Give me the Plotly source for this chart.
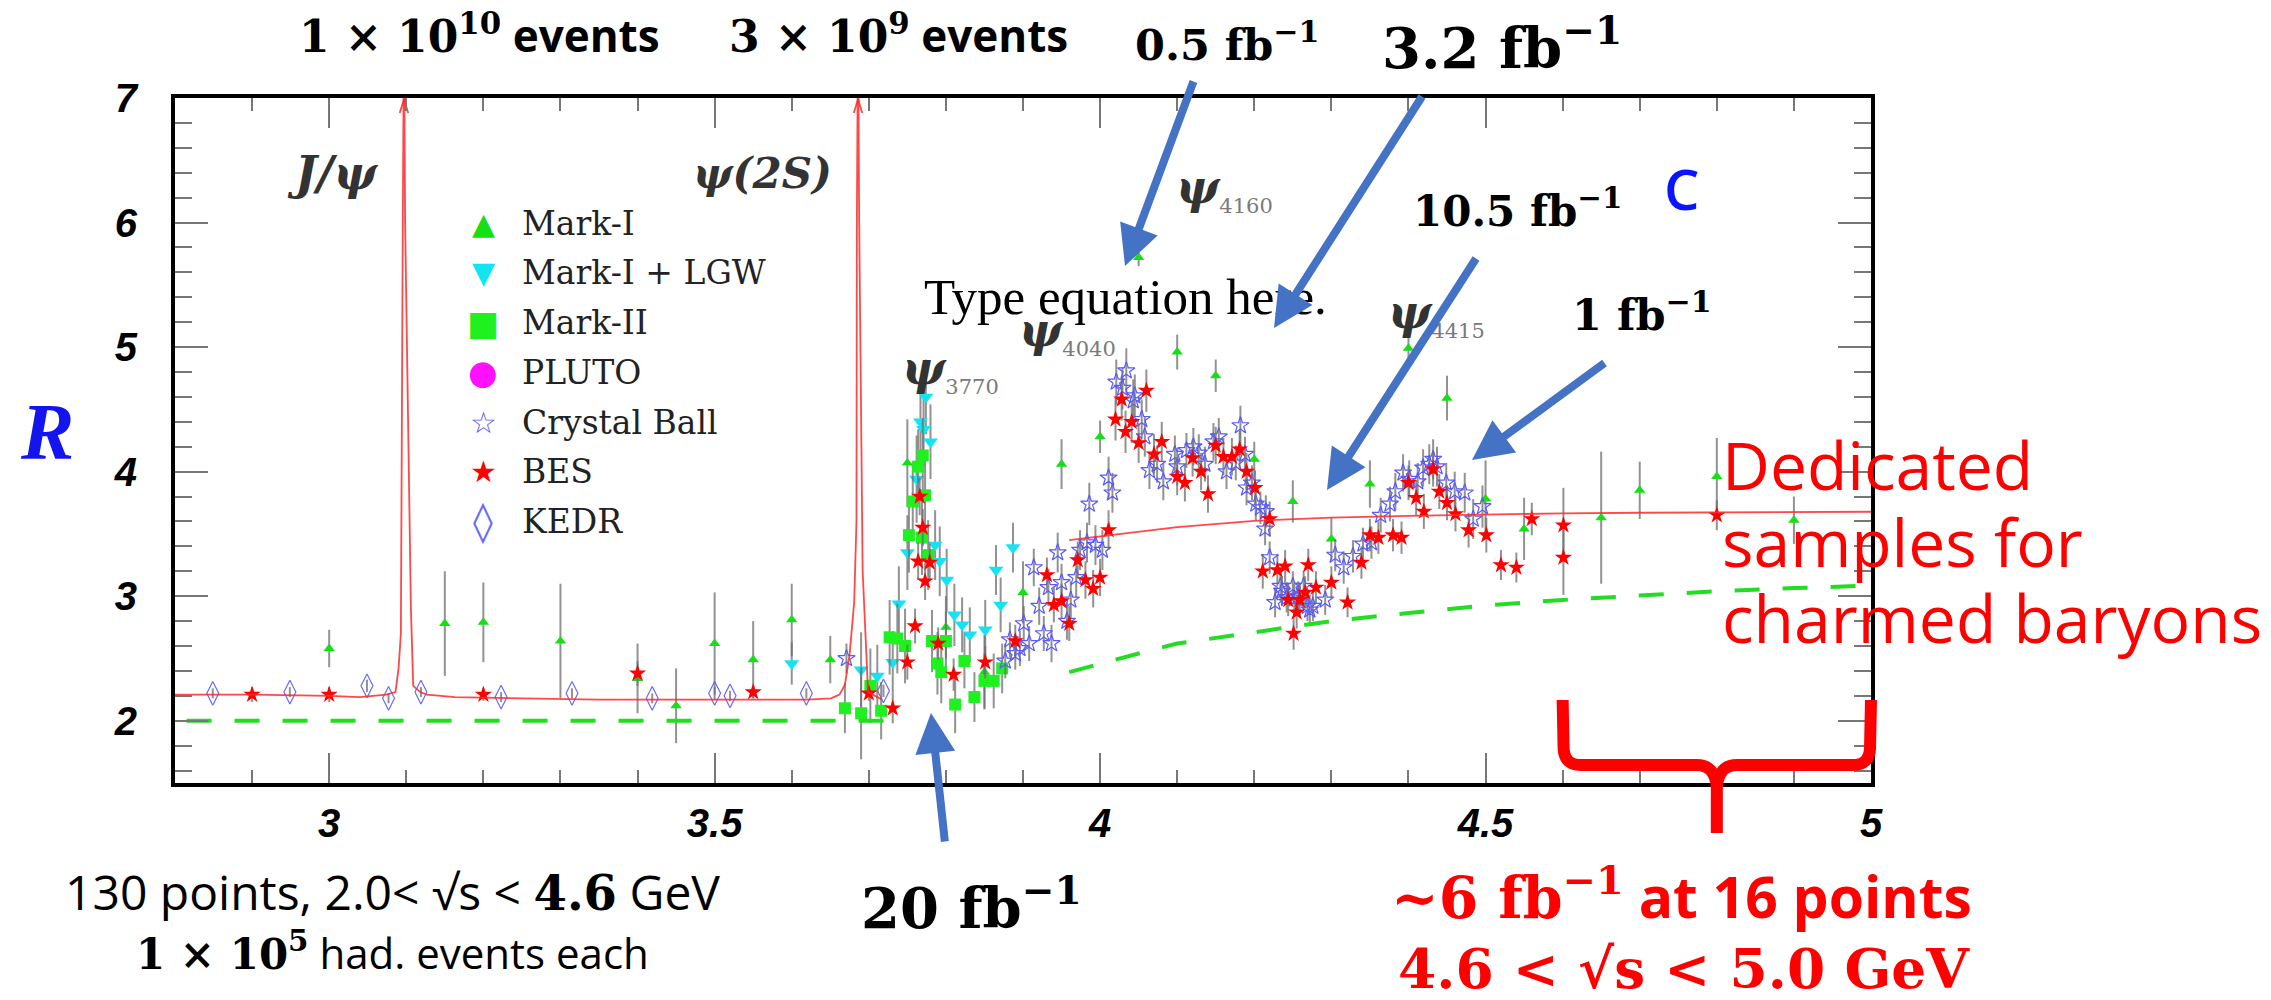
import plotly.graph_objects as go

# ---------------- data ----------------
series_names = ["Mark-I", "Mark-I + LGW", "Mark-II", "PLUTO", "Crystal Ball", "BES", "KEDR"]

markI_x = [3.00, 3.15, 3.20, 3.30, 3.40, 3.45, 3.50, 3.55, 3.60, 3.65, 3.75, 3.80, 3.85, 3.90, 3.95, 4.00,
           4.05, 4.10, 4.15, 4.20, 4.25, 4.30, 4.35, 4.40, 4.45, 4.50, 4.55, 4.65, 4.70, 4.80, 4.90]
markI_y = [2.58, 2.78, 2.79, 2.64, 2.34, 2.12, 2.62, 2.49, 2.81, 2.49, 4.07, 2.75, 2.39, 3.03, 4.06, 4.28,
           5.72, 4.96, 4.77, 4.10, 3.76, 3.46, 3.90, 4.99, 4.59, 3.78, 3.54, 3.63, 3.85, 3.96, 3.61]
markI_e = [0.15, 0.42, 0.32, 0.46, 0.28, 0.30, 0.41, 0.31, 0.29, 0.19, 0.35, 0.25, 0.30, 0.25, 0.20, 0.13,
           0.07, 0.14, 0.13, 0.14, 0.17, 0.17, 0.19, 0.10, 0.18, 0.31, 0.25, 0.53, 0.23, 0.31, 0.19]

lgw_x = [3.600, 3.690, 3.711, 3.731, 3.739, 3.750, 3.762, 3.767, 3.771, 3.774, 3.780, 3.786, 3.792, 3.801,
         3.811, 3.821, 3.831, 3.851, 3.865, 3.871, 3.887]
lgw_y = [2.46, 2.41, 2.36, 2.47, 2.94, 3.35, 3.94, 4.40, 4.34, 4.60, 4.24, 3.41, 3.28, 3.13,
         2.85, 2.77, 2.69, 2.73, 3.21, 2.93, 3.39]
lgw_e = [0.17, 0.30, 0.25, 0.25, 0.30, 0.30, 0.35, 0.35, 0.30, 0.30, 0.30, 0.28, 0.28, 0.25,
         0.25, 0.22, 0.22, 0.24, 0.20, 0.22, 0.20]

markII_x = [3.669, 3.690, 3.702, 3.716, 3.727, 3.737, 3.747, 3.752, 3.757, 3.764, 3.769, 3.770, 3.773,
            3.777, 3.782, 3.789, 3.794, 3.800, 3.812, 3.824, 3.837, 3.850, 3.862, 3.873]
markII_y = [2.10, 2.06, 2.28, 2.08, 2.67, 2.66, 2.60, 3.49, 3.76, 4.04, 3.47, 4.13, 3.81,
            3.33, 2.64, 2.46, 2.39, 2.64, 2.13, 2.48, 2.19, 2.32, 2.32, 2.42]
markII_e = [0.20, 0.37, 0.30, 0.23, 0.30, 0.28, 0.30, 0.30, 0.32, 0.30, 0.30, 0.30, 0.30,
            0.28, 0.25, 0.25, 0.25, 0.24, 0.23, 0.22, 0.20, 0.22, 0.22, 0.20]

pluto_x = []
pluto_y = []

cb_x = [3.671, 3.877, 3.883, 3.890, 3.896, 3.901, 3.908, 3.914, 3.921, 3.927, 3.933, 3.937, 3.945, 3.950,
        3.957, 3.962, 3.969, 3.974, 3.983, 3.986, 3.994, 4.003, 4.011, 4.016, 4.021, 4.029, 4.034, 4.043,
        4.045, 4.054, 4.058, 4.064, 4.074, 4.082, 4.097, 4.100, 4.112, 4.121, 4.128, 4.136, 4.147, 4.154,
        4.164, 4.176, 4.182, 4.188, 4.190, 4.197, 4.202, 4.208, 4.214, 4.215, 4.220, 4.227, 4.234, 4.236,
        4.242, 4.250, 4.252, 4.257, 4.264, 4.269, 4.272, 4.276, 4.292, 4.305, 4.316, 4.328, 4.341, 4.352,
        4.364, 4.376, 4.383, 4.393, 4.401, 4.412, 4.419, 4.427, 4.432, 4.437, 4.449, 4.460, 4.473, 4.484,
        4.496]
cb_y = [2.50, 2.48, 2.65, 2.54, 2.58, 2.78, 2.62, 3.23, 2.92, 2.70, 3.07, 2.62, 3.35, 3.11,
        2.80, 2.97, 3.15, 3.37, 3.43, 3.74, 3.41, 3.37, 3.95, 3.83, 4.72, 4.67, 4.81, 4.57,
        4.61, 4.42, 4.28, 4.01, 4.06, 3.92, 4.14, 4.04, 4.17, 4.20, 4.15, 4.06, 4.24, 4.28,
        4.00, 4.07, 4.37, 4.14, 3.87, 3.91, 3.74, 3.71, 3.54, 3.68, 3.31, 2.95, 3.08, 3.04,
        2.99, 3.08, 2.98, 3.00, 3.08, 2.92, 2.89, 2.92, 2.97, 3.33, 3.23, 3.32, 3.42, 3.43,
        3.65, 3.74, 3.84, 3.99, 3.94, 3.92, 4.03, 4.06, 4.10, 4.04, 3.91, 3.84, 3.83, 3.62,
        3.72]
cb_e = [0.12, 0.14, 0.14, 0.13, 0.14, 0.14, 0.14, 0.15, 0.15, 0.14, 0.15, 0.15, 0.16, 0.15,
        0.15, 0.15, 0.16, 0.16, 0.16, 0.17, 0.16, 0.16, 0.17, 0.16, 0.18, 0.17, 0.18, 0.17,
        0.17, 0.16, 0.16, 0.15, 0.15, 0.15, 0.15, 0.15, 0.14, 0.15, 0.15, 0.14, 0.15, 0.15,
        0.14, 0.14, 0.16, 0.14, 0.14, 0.14, 0.13, 0.13, 0.13, 0.13, 0.13, 0.12, 0.12, 0.12,
        0.12, 0.12, 0.12, 0.12, 0.12, 0.12, 0.12, 0.12, 0.12, 0.13, 0.13, 0.13, 0.13, 0.13,
        0.14, 0.14, 0.15, 0.15, 0.15, 0.15, 0.15, 0.16, 0.16, 0.16, 0.16, 0.16, 0.16, 0.16,
        0.17]

bes_x = [2.90, 3.00, 3.20, 3.40, 3.55, 3.70, 3.731, 3.750, 3.760, 3.764, 3.766, 3.770, 3.773, 3.779,
         3.790, 3.810, 3.851, 3.890, 3.931, 3.940, 3.950, 3.960, 3.971, 3.981, 3.991, 4.000, 4.011,
         4.020, 4.028, 4.033, 4.041, 4.050, 4.060, 4.070, 4.080, 4.100, 4.110, 4.120, 4.131, 4.140,
         4.150, 4.160, 4.171, 4.181, 4.190, 4.201, 4.211, 4.220, 4.230, 4.240, 4.244, 4.251, 4.255,
         4.259, 4.266, 4.270, 4.280, 4.300, 4.321, 4.339, 4.350, 4.361, 4.380, 4.391, 4.400, 4.410,
         4.420, 4.432, 4.440, 4.450, 4.461, 4.478, 4.501, 4.520, 4.540, 4.560, 4.601, 4.601, 4.800]
bes_y = [2.21, 2.21, 2.21, 2.38, 2.23, 2.22, 2.10, 2.47, 2.76, 3.28, 3.80, 3.55, 3.12, 3.27,
         2.62, 2.37, 2.47, 2.64, 3.17, 2.93, 2.96, 2.78, 3.29, 3.13, 3.06, 3.15, 3.53,
         4.42, 4.58, 4.32, 4.40, 4.23, 4.65, 4.14, 4.24, 3.96, 3.91, 4.11, 4.00, 3.82,
         4.21, 4.12, 4.12, 4.18, 4.00, 3.87, 3.20, 3.62, 3.21, 3.24, 2.97, 2.70, 2.87,
         2.97, 3.03, 3.25, 3.07, 3.11, 2.95, 3.27, 3.49, 3.47, 3.49, 3.47, 3.91, 3.79,
         3.68, 4.02, 3.84, 3.75, 3.66, 3.53, 3.49, 3.25, 3.23, 3.62, 3.57, 3.31, 3.65]
bes_e = [0.06, 0.06, 0.05, 0.10, 0.05, 0.06, 0.12, 0.14, 0.14, 0.15, 0.15, 0.15, 0.15, 0.15,
         0.13, 0.13, 0.13, 0.13, 0.14, 0.14, 0.14, 0.14, 0.15, 0.15, 0.15, 0.15, 0.16,
         0.17, 0.17, 0.17, 0.17, 0.16, 0.17, 0.16, 0.16, 0.15, 0.15, 0.15, 0.15, 0.15,
         0.15, 0.15, 0.15, 0.15, 0.15, 0.14, 0.14, 0.14, 0.13, 0.13, 0.13, 0.13, 0.13,
         0.13, 0.13, 0.13, 0.13, 0.13, 0.12, 0.13, 0.13, 0.13, 0.13, 0.13, 0.14, 0.14,
         0.14, 0.14, 0.14, 0.14, 0.14, 0.14, 0.14, 0.12, 0.12, 0.13, 0.30, 0.30, 0.12]

kedr_x = [2.849, 2.949, 3.049, 3.077, 3.119, 3.223, 3.315, 3.419, 3.500, 3.520, 3.619, 3.719]
kedr_y = [2.22, 2.23, 2.28, 2.18, 2.23, 2.19, 2.22, 2.18, 2.22, 2.20, 2.22, 2.24]
kedr_e = [0.04, 0.04, 0.05, 0.04, 0.04, 0.04, 0.04, 0.04, 0.05, 0.04, 0.04, 0.05]

# theory curves
theory_low_x = [2.80, 2.90, 3.00, 3.04, 3.074, 3.086, 3.090, 3.093, 3.0955, 3.097, 3.0985, 3.106, 3.109,
                3.118, 3.127, 3.163, 3.25, 3.35, 3.45, 3.55, 3.62, 3.651, 3.662, 3.669, 3.675, 3.681,
                3.684, 3.6845, 3.686, 3.6875, 3.692, 3.699, 3.708, 3.717]
theory_low_y = [2.21, 2.21, 2.20, 2.19, 2.21, 2.23, 2.42, 2.70, 6.00, 7.60, 6.00, 2.90, 2.28,
                2.23, 2.21, 2.19, 2.18, 2.17, 2.17, 2.17, 2.17, 2.18, 2.21, 2.29, 2.53, 2.95,
                3.60, 6.00, 7.60, 6.00, 3.20, 2.23, 2.20, 2.17]
resonance_peaks = [3.097, 3.686]

theory_high_x = [3.96, 4.00, 4.05, 4.10, 4.20, 4.30, 4.40, 4.50, 4.60, 4.70, 4.80, 4.90, 5.00]
theory_high_y = [3.45, 3.48, 3.52, 3.555, 3.605, 3.63, 3.645, 3.657, 3.665, 3.670, 3.674, 3.676, 3.678]

parton_low_x = [2.815, 3.722]
parton_low_y = [2.00, 2.00]
parton_high_x = [3.96, 4.00, 4.05, 4.10, 4.20, 4.30, 4.40, 4.50, 4.60, 4.70, 4.80, 4.90, 5.00]
parton_high_y = [2.39, 2.46, 2.54, 2.62, 2.71, 2.80, 2.865, 2.925, 2.97, 3.005, 3.04, 3.065, 3.085]

x_tickvals = [3, 3.5, 4, 4.5, 5]
x_ticktext = ["3", "3.5", "4", "4.5", "5"]
y_tickvals = [2, 3, 4, 5, 6, 7]
y_ticktext = ["2", "3", "4", "5", "6", "7"]

# ---------------- layout geometry ----------------
W, H = 2271, 1000
ML, MR, MT, MB = 175, 400, 98, 217
XR = [2.8, 5.0]
YR = [1.5, 7.0]


def px(X):
    return (X - ML) / (W - ML - MR)


def py(Y):
    return (H - MB - Y) / (H - MT - MB)


def dx(x):  # data x -> pixel
    return ML + (x - XR[0]) / (XR[1] - XR[0]) * (W - ML - MR)


colors = {
    "Mark-I": "#14e014",
    "Mark-I + LGW": "#12e4f2",
    "Mark-II": "#1ff01f",
    "PLUTO": "#ff10ff",
    "Crystal Ball": "#5a5aff",
    "BES": "#ff0000",
    "KEDR": "#6a6aff",
}
ERR = dict(type="data", thickness=2, width=0, color="rgba(110,110,110,0.75)")

fig = go.Figure()


def add_series(name, xs, ys, es, symbol, size, lw=0):
    fig.add_trace(go.Scatter(
        x=xs, y=ys, mode="markers", name=name, showlegend=False,
        error_y=dict(ERR, array=es),
        marker=dict(symbol=symbol, size=size, color=colors[name],
                    line=dict(width=lw, color=colors[name])),
    ))


add_series("KEDR", kedr_x, kedr_y, kedr_e, "diamond-tall-open", 17, 1.2)
add_series("Mark-I", markI_x, markI_y, markI_e, "triangle-up", 10)
add_series("Mark-I + LGW", lgw_x, lgw_y, lgw_e, "triangle-down", 13)
add_series("Mark-II", markII_x, markII_y, markII_e, "square", 12)
fig.add_trace(go.Scatter(x=pluto_x, y=pluto_y, mode="markers", name="PLUTO", showlegend=False,
                         marker=dict(symbol="circle", size=12, color=colors["PLUTO"])))
add_series("Crystal Ball", cb_x, cb_y, cb_e, "star-open", 13, 1.2)
add_series("BES", bes_x, bes_y, bes_e, "star", 13)

# theory (red) and parton model (green dashed)
RED_LINE = dict(color="rgba(255,40,40,0.85)", width=1.8)
fig.add_trace(go.Scatter(x=theory_low_x, y=theory_low_y, mode="lines", showlegend=False, line=RED_LINE))
fig.add_trace(go.Scatter(x=theory_high_x, y=theory_high_y, mode="lines", showlegend=False, line=RED_LINE))
ah_x, ah_y = [], []
for p in resonance_peaks:
    ah_x += [p - 0.0055, p, p + 0.0055, None]
    ah_y += [6.88, 6.99, 6.88, None]
fig.add_trace(go.Scatter(x=ah_x, y=ah_y, mode="lines", showlegend=False, line=RED_LINE))
fig.add_trace(go.Scatter(x=parton_low_x, y=parton_low_y, mode="lines", showlegend=False,
                         line=dict(color="#22dd22", width=4, dash="25px,23px")))
fig.add_trace(go.Scatter(x=parton_high_x, y=parton_high_y, mode="lines", showlegend=False,
                         line=dict(color="#22dd22", width=4, dash="25px,23px")))

# ---------------- annotations ----------------
ann = []


def txt(text, X, Y, size, color="black", family="Open Sans", xanchor="center",
        yanchor="middle", weight=None, style=None):
    f = dict(size=size, color=color, family=family)
    if weight:
        f["weight"] = weight
    if style:
        f["style"] = style
    ann.append(dict(text=text, x=px(X), y=py(Y), xref="paper", yref="paper", showarrow=False,
                    xanchor=xanchor, yanchor=yanchor, font=f))


SERIF_B = "DejaVu Serif"
MATH = "font-family:'DejaVu Serif';font-weight:bold"

txt(f"<span style=\"{MATH}\">1 × 10<sup>10</sup></span> events", 479, 35, 44, weight=700)
txt(f"<span style=\"{MATH}\">3 × 10<sup>9</sup></span> events", 898, 35, 44, weight=700)
txt("0.5 fb<sup>−1</sup>", 1227, 42, 43, family=SERIF_B, weight=700)
txt("3.2 fb<sup>−1</sup>", 1502, 44, 56, family=SERIF_B, weight=700)
txt("10.5 fb<sup>−1</sup>", 1517, 208, 42, family=SERIF_B, weight=700)
txt("1 fb<sup>−1</sup>", 1642, 312, 43, family=SERIF_B, weight=700)
txt("C", 1682, 188, 56, color="#0a14ff", family="Open Sans", weight=600)
txt("20 fb<sup>−1</sup>", 971, 904, 56, family=SERIF_B, weight=700)
txt("Type equation here.", 1125, 297, 51, family="Liberation Serif")

# resonance labels
PSI = "#333333"
SUB = ("<sub><span style=\"color:#7a7a7a;font-weight:normal;font-style:normal;font-size:21px\">"
       "{}</span></sub>")
for lab, X, Y in [("4160", 1174, 189), ("4040", 1017, 332), ("3770", 900, 370), ("4415", 1386, 314)]:
    txt("<b><i>ψ</i></b>" + SUB.format(lab), X, Y, 46, color=PSI, family="DejaVu Serif",
        xanchor="left")
txt("<b><i>J/ψ</i></b>", 333, 173, 46, color=PSI, family="DejaVu Serif")
txt("<b><i>ψ(2S)</i></b>", 762, 173, 42, color=PSI, family="DejaVu Serif")

# y axis symbol
txt("<b><i>R</i></b>", 47, 432, 80, color="#1414ee", family="Liberation Serif")

# bottom notes
txt(f"130 points, 2.0< √s < <span style=\"{MATH}\">4.6</span> GeV", 392, 891, 48)
txt(f"<span style=\"{MATH}\">1 × 10<sup>5</sup></span> had. events each", 392, 952, 42)
txt(f"<span style=\"{MATH}\">~6 fb<sup>−1</sup></span> at 16 points", 1681, 896, 57,
    color="#ff0000", weight=700)
txt("4.6 < √s < 5.0 GeV", 1684, 968, 55, color="#ff0000", family=SERIF_B, weight=700)

for i, line in enumerate(["Dedicated", "samples for", "charmed baryons"]):
    txt(line, 1720, 464 + 76.5 * i, 66, color="#ff0000", xanchor="left")

# legend (drawn inside plot)
glyphs = ["▲", "▼", "■", "●", "☆", "★", "◊"]
glyph_sizes = [30, 30, 34, 34, 30, 30, 40]
for i, name in enumerate(series_names):
    Yr = 223 + 49.8 * i
    txt(glyphs[i], 483, Yr, glyph_sizes[i], color=colors[name], family="DejaVu Sans")
    txt(name, 520, Yr, 33, color="#222222", family="DejaVu Serif", xanchor="left")

# blue arrows (tail -> head) in pixels
for (tx, ty, hx, hy) in [(1194, 80, 1125, 266), (1423, 95, 1274, 328), (1477, 257, 1327, 490),
                         (1606, 362, 1472, 460), (945, 843, 931, 713)]:
    ann.append(dict(x=px(hx), y=py(hy), xref="paper", yref="paper", ax=tx - hx, ay=ty - hy,
                    axref="pixel", ayref="pixel", showarrow=True, arrowhead=2, arrowsize=1.0,
                    arrowwidth=8, arrowcolor="#4472C4", text="", standoff=0))

# red brace under 4.6 < sqrt(s) < 5.0
bx0, bx1 = dx(4.6), dx(5.0)
bm = (bx0 + bx1) / 2
ytop, yh, ytip = 700, 765, 833


def P(X, Y):
    return f"{px(X):.5f},{py(Y):.5f}"


brace = (f"M{P(bx0, ytop)} L{P(bx0 + 1, yh - 16)} Q{P(bx0 + 2, yh)} {P(bx0 + 18, yh)} "
         f"L{P(bm - 20, yh)} Q{P(bm - 2, yh)} {P(bm, yh + 22)} L{P(bm, ytip)} "
         f"M{P(bx1, ytop)} L{P(bx1 - 1, yh - 16)} Q{P(bx1 - 2, yh)} {P(bx1 - 18, yh)} "
         f"L{P(bm + 20, yh)} Q{P(bm + 2, yh)} {P(bm, yh + 22)}")
shapes = [dict(type="path", xref="paper", yref="paper", path=brace,
               line=dict(color="#ff0000", width=12))]

axis_common = dict(
    showline=True, linecolor="black", linewidth=4, mirror="ticks",
    ticks="inside", tickcolor="#777777", tickwidth=2,
    showgrid=False, zeroline=False,
    tickfont=dict(family="Liberation Sans", size=40, color="black", weight=700, style="italic"),
)

fig.update_layout(
    width=W, height=H, autosize=False,
    margin=dict(l=ML, r=MR, t=MT, b=MB, pad=0),
    paper_bgcolor="white", plot_bgcolor="white",
    showlegend=False,
    xaxis=dict(axis_common, range=XR, tickvals=x_tickvals, ticktext=x_ticktext, ticklen=30,
               ticklabelstandoff=2,
               minor=dict(ticks="inside", ticklen=13, dtick=0.1, tick0=3, tickcolor="#777777",
                          tickwidth=2, showgrid=False)),
    yaxis=dict(axis_common, range=YR, tickvals=y_tickvals, ticktext=y_ticktext, ticklen=33,
               ticklabelstandoff=26,
               minor=dict(ticks="inside", ticklen=17, dtick=0.2, tick0=2, tickcolor="#777777",
                          tickwidth=2, showgrid=False)),
    annotations=ann,
    shapes=shapes,
)

fig.write_html("out.html")
